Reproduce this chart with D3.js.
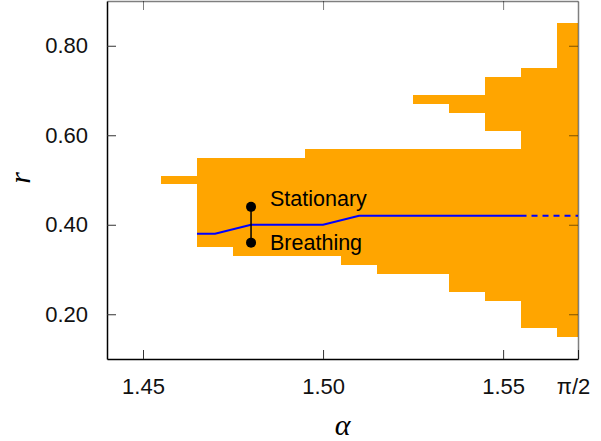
<!DOCTYPE html>
<html>
<head>
<meta charset="utf-8">
<script src="https://cdn.jsdelivr.net/npm/d3@7"></script>
<style>
	body { margin: 0; background: #fff; }
	#chart { width: 601px; height: 441px; }
	text { font-family: "Liberation Sans", Arial, sans-serif; }
</style>
</head>
<body>
<div id="chart"></div>
<script>
"use strict"

// alpha bins (centres), each bin is 0.01 wide, last one clipped at pi/2
const alphaBins = [1.46, 1.47, 1.48, 1.49, 1.50, 1.51, 1.52, 1.53, 1.54, 1.55, 1.56, 1.57];
const rLow      = [0.49, 0.35, 0.33, 0.33, 0.33, 0.31, 0.29, 0.29, 0.25, 0.23, 0.17, 0.15];
const rHigh     = [0.51, 0.55, 0.55, 0.55, 0.57, 0.57, 0.57, 0.57, 0.57, 0.57, 0.75, 0.85];

// separate upper islands
const islandAlpha = [1.53, 1.54, 1.55];
const islandLow   = [0.67, 0.65, 0.61];
const islandHigh  = [0.69, 0.69, 0.73];

// blue boundary line (solid part, then dashed to pi/2)
const lineAlpha = [1.465, 1.47, 1.48, 1.50, 1.51, 1.5565];
const lineR     = [0.38, 0.38, 0.40, 0.40, 0.42, 0.42];
const dashAlpha = [1.5565, Math.PI / 2];
const dashR     = [0.42, 0.42];

// marker pair
const markerAlpha = 1.48;
const markerR = [0.44, 0.36];
const markerLabels = ["Stationary", "Breathing"];

const xTicks = [1.45, 1.50, 1.55, Math.PI / 2];
const xTickLabels = ["1.45", "1.50", "1.55", "\u03c0/2"];
const yTicks = [0.20, 0.40, 0.60, 0.80];

const binWidth = 0.01;

let PhaseView = function(targetID) {
	let self = {
		target: null,
		svg: null,
		margin: {left: 107, right: 23, top: 1, bottom: 82},
		width: 0,
		height: 0,
		xScale: d3.scaleLinear(),
		yScale: d3.scaleLinear(),
	};

	function draw() {
		self.target = d3.select(targetID);
		let totalWidth = 601, totalHeight = 441;
		self.width = totalWidth - self.margin.left - self.margin.right;
		self.height = totalHeight - self.margin.top - self.margin.bottom;

		self.svg = self.target.append("svg")
			.attr("width", totalWidth)
			.attr("height", totalHeight);

		let g = self.svg.append("g")
			.attr("transform", `translate(${self.margin.left},${self.margin.top})`);

		self.xScale.domain([1.44, Math.PI / 2]).range([0, self.width]);
		self.yScale.domain([0.1, 0.9]).range([self.height, 0]);

		let x = self.xScale, y = self.yScale;
		let clipHi = a => Math.min(a + binWidth / 2, Math.PI / 2);

		// main band
		let bars = alphaBins.map((a, i) => ({a0: a - binWidth / 2, a1: clipHi(a), lo: rLow[i], hi: rHigh[i]}));
		islandAlpha.forEach((a, i) => bars.push({a0: a - binWidth / 2, a1: clipHi(a), lo: islandLow[i], hi: islandHigh[i]}));

		g.append("g").selectAll("rect")
			.data(bars)
			.enter().append("rect")
				.attr("x", d => x(d.a0))
				.attr("y", d => y(d.hi))
				.attr("width", d => x(d.a1) - x(d.a0))
				.attr("height", d => y(d.lo) - y(d.hi))
				.attr("shape-rendering", "crispEdges")
				.style("fill", "#ffa500");

		// boundary line
		let line = d3.line().x(d => x(d[0])).y(d => y(d[1]));
		g.append("path")
			.datum(lineAlpha.map((a, i) => [a, lineR[i]]))
			.attr("d", line)
			.style("fill", "none")
			.style("stroke", "#0000ff")
			.style("stroke-width", 2);
		g.append("path")
			.datum(dashAlpha.map((a, i) => [a, dashR[i]]))
			.attr("d", line)
			.style("fill", "none")
			.style("stroke", "#0000ff")
			.style("stroke-width", 2)
			.style("stroke-dasharray", "6,5")
			.style("stroke-dashoffset", 6);

		// markers
		g.append("line")
			.attr("x1", x(markerAlpha)).attr("x2", x(markerAlpha))
			.attr("y1", y(markerR[0])).attr("y2", y(markerR[1]))
			.style("stroke", "#000")
			.style("stroke-width", 1.5);
		g.append("g").selectAll("circle")
			.data(markerR)
			.enter().append("circle")
				.attr("cx", x(markerAlpha))
				.attr("cy", d => y(d))
				.attr("r", 5)
				.style("fill", "#000");
		g.append("g").selectAll("text")
			.data(markerR)
			.enter().append("text")
				.attr("x", x(markerAlpha) + 19)
				.attr("y", (d, i) => y(d) + (i == 0 ? -1 : 7))
				.style("font-size", "21.5px")
				.style("fill", "#000")
				.text((d, i) => markerLabels[i]);

		// axes
		let left = g.append("g")
			.call(d3.axisLeft(y).tickValues(yTicks).tickFormat(d3.format(".2f"))
				.tickSize(-9).tickSizeOuter(0).tickPadding(19));
		let bottom = g.append("g")
			.attr("transform", `translate(0,${self.height})`)
			.call(d3.axisBottom(x).tickValues(xTicks).tickFormat((d, i) => xTickLabels[i])
				.tickSize(-9).tickSizeOuter(0).tickPadding(19));
		let top = g.append("g")
			.call(d3.axisTop(x).tickValues(xTicks.slice(0, 3)).tickFormat("")
				.tickSize(-9).tickSizeOuter(0));
		let right = g.append("g")
			.attr("transform", `translate(${self.width},0)`)
			.call(d3.axisRight(y).tickValues(yTicks).tickFormat("")
				.tickSize(-9).tickSizeOuter(0));

		[left, bottom].forEach(a => {
			a.select(".domain").style("stroke", "#000").style("stroke-width", 1.5);
			a.selectAll(".tick line").style("stroke", "#333");
			a.selectAll("text").style("font-size", "22px").style("fill", "#111")
				.style("font-family", "'Liberation Sans', Arial, sans-serif");
		});
		[top, right].forEach(a => {
			a.select(".domain").style("stroke", "#000").style("stroke-opacity", 0.5).style("stroke-width", 1.5);
			a.selectAll(".tick line").style("stroke", "#000").style("stroke-opacity", 0.5);
		});
		bottom.selectAll(".tick text").filter((d, i) => i == 3).attr("dx", -5);

		// axis titles
		g.append("text")
			.attr("x", self.width / 2)
			.attr("y", 434)
			.attr("text-anchor", "middle")
			.style("font-family", "'Liberation Serif', 'Times New Roman', serif")
			.style("font-style", "italic")
			.style("font-size", "30px")
			.text("\u03b1");
		g.append("text")
			.attr("transform", `translate(${30 - self.margin.left},${178 - self.margin.top}) rotate(-90)`)
			.attr("text-anchor", "middle")
			.style("font-family", "'Liberation Serif', 'Times New Roman', serif")
			.style("font-style", "italic")
			.style("font-size", "30px")
			.text("r");
	}

	return {
		draw,
	};
}

PhaseView("#chart").draw();
</script>
</body>
</html>
